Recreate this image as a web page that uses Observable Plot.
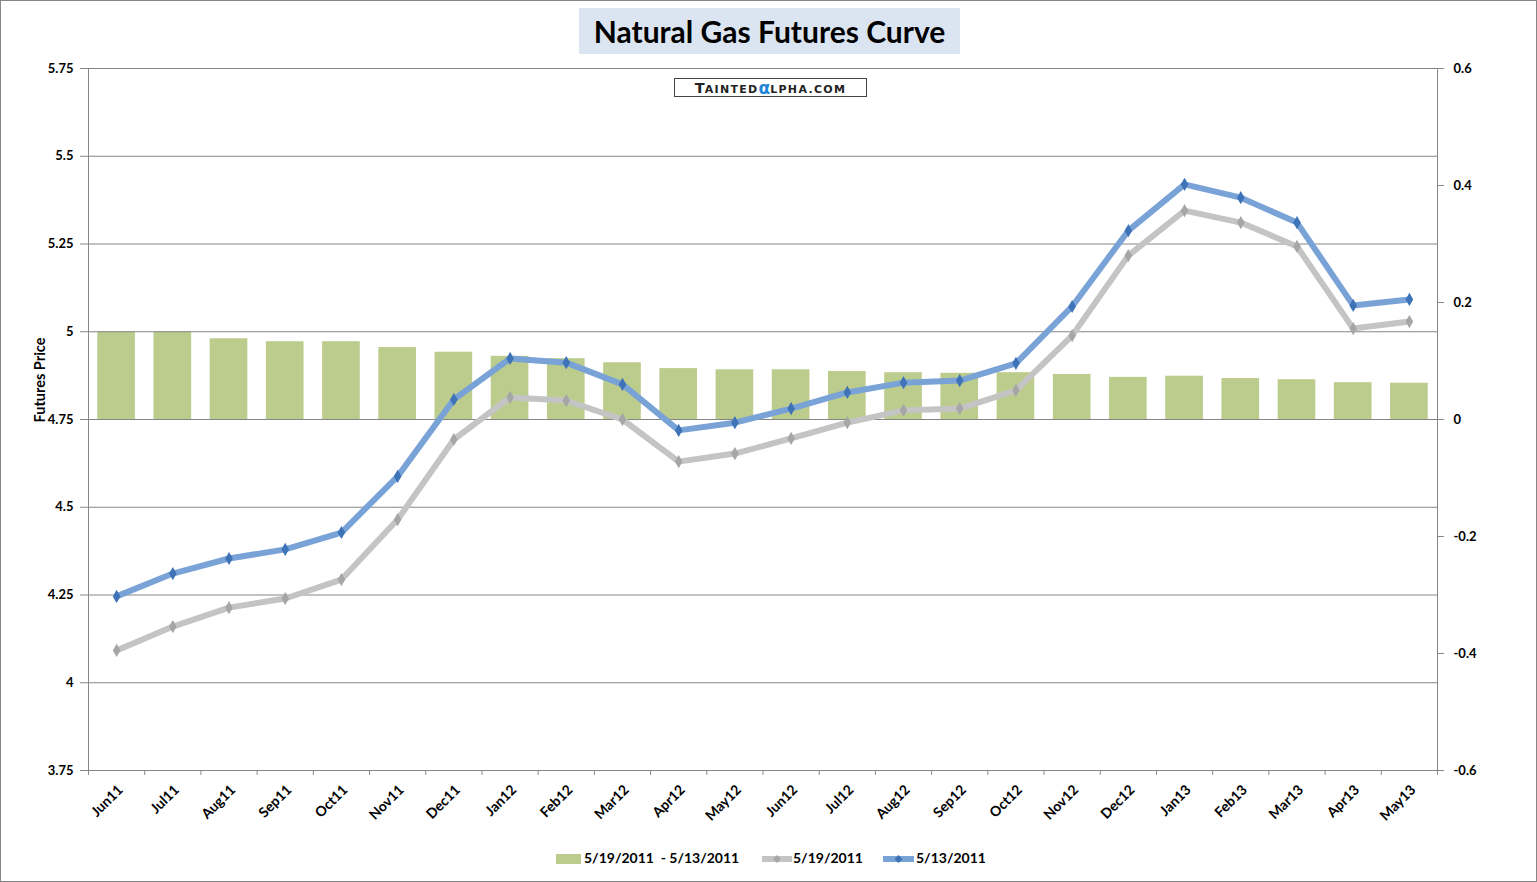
<!DOCTYPE html>
<html>
<head>
<meta charset="utf-8">
<script src="https://cdn.jsdelivr.net/npm/d3@7"></script>
<script src="https://cdn.jsdelivr.net/npm/@observablehq/plot@0.6"></script>
<style>
  html, body { margin: 0; padding: 0; background: #fff; }
  #wrap { position: relative; width: 1537px; height: 882px; overflow: hidden; font-family: Lato, "Open Sans", sans-serif; }
  #border { position: absolute; left: 0; top: 0; width: 1535px; height: 880px; border: 1px solid #868686; pointer-events: none; }
  #chart { position: absolute; left: 0; top: 0; }
  #title { position: absolute; left: 579px; top: 8px; width: 381px; height: 46px; background: #dbe5f1;
           font-size: 30px; font-weight: bold; line-height: 46px; text-align: center; color: #000; }
  #logo { position: absolute; left: 674px; top: 78px; width: 191px; height: 17px; border: 1px solid #444;
          font-family: "DejaVu Sans", sans-serif; font-weight: bold; text-align: center; line-height: 17px; color: #222; white-space: nowrap; }
  #logo .big { font-size: 14.5px; }
  #logo .sm { font-size: 11px; letter-spacing: 1.3px; }
  #logo .al { font-size: 17px; color: #1f86d6; font-family: "DejaVu Sans", sans-serif; line-height: 0; position: relative; top: 1px; }
  #ylabel { position: absolute; left: 39px; top: 380px; transform: translate(-50%, -50%) rotate(-90deg);
            font-size: 14.5px; font-weight: bold; white-space: nowrap; }
  .leg { position: absolute; top: 850px; font-size: 14px; font-weight: bold; white-space: pre; line-height: 16px; }
  .legsw { position: absolute; }
</style>
</head>
<body>
<div id="wrap">
  <div id="chart"></div>
  <div id="title">Natural Gas Futures Curve</div>
  <div id="logo"><span class="big">T</span><span class="sm">AINTED</span><span class="al">α</span><span class="sm">LPHA.COM</span></div>
  <div id="ylabel">Futures Price</div>
  <div id="legend"></div>
  <div id="border"></div>
</div>
<script>
// ---- data ----
const months = ["Jun11","Jul11","Aug11","Sep11","Oct11","Nov11","Dec11","Jan12","Feb12","Mar12","Apr12","May12",
                "Jun12","Jul12","Aug12","Sep12","Oct12","Nov12","Dec12","Jan13","Feb13","Mar13","Apr13","May13"];
const price0513 = [4.246,4.311,4.354,4.380,4.428,4.588,4.807,4.924,4.912,4.850,4.719,4.741,
                   4.781,4.827,4.855,4.861,4.910,5.072,5.288,5.420,5.382,5.311,5.075,5.092];
const price0519 = [4.092,4.160,4.214,4.240,4.294,4.465,4.693,4.813,4.804,4.750,4.630,4.653,
                   4.696,4.741,4.776,4.781,4.833,4.989,5.217,5.345,5.311,5.243,5.009,5.029];
const spread    = [0.150,0.150,0.138,0.133,0.133,0.123,0.115,0.108,0.104,0.097,0.087,0.085,
                   0.085,0.082,0.080,0.079,0.080,0.077,0.072,0.074,0.070,0.068,0.063,0.062];
const leftTicks   = [3.75,4,4.25,4.5,4.75,5,5.25,5.5,5.75];
const leftLabels  = ["3.75","4","4.25","4.5","4.75","5","5.25","5.5","5.75"];
const rightTicks  = [-0.6,-0.4,-0.2,0,0.2,0.4,0.6];
const rightLabels = ["-0.6","-0.4","-0.2","0","0.2","0.4","0.6"];
const seriesNames = ["5/19/2011  - 5/13/2011","5/19/2011","5/13/2011"];

// secondary axis mapping: right [-0.6,0.6] onto left [3.75,5.75]
const toLeft = v => 4.75 + v * (5 / 3);

const idx = months.map((m, i) => i);
const bars = idx.map(i => ({i, v: spread[i]}));

const grid = "#868686";
const fontStyle = {fontFamily: "Lato, 'Open Sans', sans-serif", fontSize: "13px", fontWeight: "bold", color: "#000", background: "transparent", overflow: "visible"};

const chart = Plot.plot({
  width: 1537, height: 882,
  marginLeft: 88, marginRight: 100, marginTop: 68, marginBottom: 112,
  style: fontStyle,
  x: {type: "linear", domain: [-0.5, 23.5], axis: null},
  y: {domain: [3.75, 5.75], axis: null},
  marks: [
    Plot.rectY(bars, {x1: d => d.i - 0.335, x2: d => d.i + 0.335, y1: 4.75, y2: d => toLeft(d.v), fill: "#bccc8d"}),
    Plot.ruleY(leftTicks, {stroke: grid, strokeWidth: 1}),
    Plot.ruleX([-0.5, 23.5], {stroke: grid, strokeWidth: 1}),
    Plot.axisY(leftTicks, {anchor: "left", tickSize: 8, tickPadding: 7, stroke: grid, fill: "#000",
      tickFormat: d => leftLabels[leftTicks.indexOf(d)]}),
    Plot.axisY(rightTicks.map(toLeft), {anchor: "right", tickSize: 6, tickPadding: 10, stroke: grid, fill: "#000",
      tickFormat: d => rightLabels[Math.round((d - 3.75) * 3)]}),
    Plot.ruleX(d3.range(25).map(i => i - 0.5), {x: d => d, y1: 3.75, y2: 3.736, stroke: grid}),
    Plot.text(idx, {x: d => d, y: 3.75, text: d => months[d], rotate: -45, textAnchor: "end", dx: 4, dy: 17, fill: "#000", fontSize: 14}),
    Plot.line(price0519, {x: (d, i) => i, y: d => d, stroke: "#c4c4c4", strokeWidth: 6, strokeLinejoin: "miter", strokeLinecap: "butt"}),
    Plot.dot(price0519, {x: (d, i) => i, y: d => d, symbol: "diamond", r: 4, fill: "#a6a6a6", stroke: "none"}),
    Plot.line(price0513, {x: (d, i) => i, y: d => d, stroke: "#79a2d6", strokeWidth: 6, strokeLinejoin: "miter", strokeLinecap: "butt"}),
    Plot.dot(price0513, {x: (d, i) => i, y: d => d, symbol: "diamond", r: 4, fill: "#3f73b8", stroke: "none"})
  ]
});
document.getElementById("chart").appendChild(chart);

// legend
const leg = document.getElementById("legend");
const sw = (left, html) => { const s = document.createElement("div"); s.className = "legsw"; s.style.left = left + "px"; s.style.top = "850px"; s.innerHTML = html; leg.appendChild(s); };
const lbl = (left, t) => { const s = document.createElement("div"); s.className = "leg"; s.style.left = left + "px"; s.textContent = t; leg.appendChild(s); };
sw(556, '<svg width="25" height="16"><rect x="0" y="4" width="25" height="10" fill="#bccc8d"/></svg>');
lbl(584, seriesNames[0]);
sw(762, '<svg width="30" height="16"><line x1="0" y1="9" x2="30" y2="9" stroke="#c4c4c4" stroke-width="6"/><path d="M15,5 L19,9 L15,13 L11,9 Z" fill="#a6a6a6"/></svg>');
lbl(793, seriesNames[1]);
sw(883, '<svg width="31" height="16"><line x1="0" y1="9" x2="31" y2="9" stroke="#79a2d6" stroke-width="6"/><path d="M15.5,5 L19.5,9 L15.5,13 L11.5,9 Z" fill="#3f73b8"/></svg>');
lbl(916, seriesNames[2]);
</script>
</body>
</html>
